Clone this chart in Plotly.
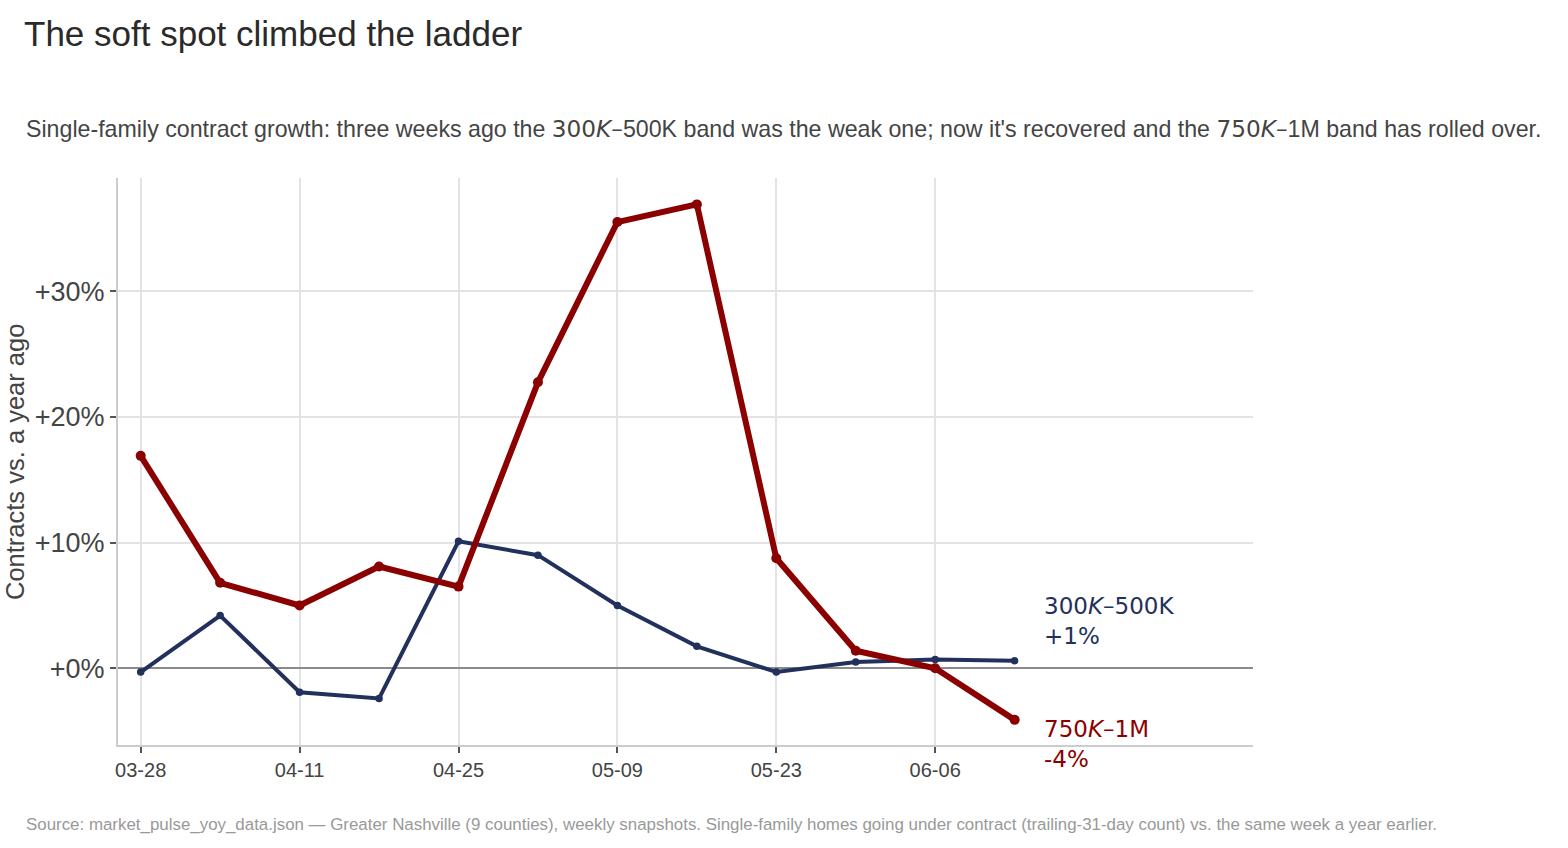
import plotly.graph_objects as go

dates = ["2025-03-28", "2025-04-04", "2025-04-11", "2025-04-18", "2025-04-25", "2025-05-02",
         "2025-05-09", "2025-05-16", "2025-05-23", "2025-05-30", "2025-06-06", "2025-06-13"]
band_300_500 = [-0.3, 4.2, -1.9, -2.4, 10.1, 9.0, 5.0, 1.75, -0.3, 0.5, 0.7, 0.6]
band_750_1m = [16.9, 6.8, 5.0, 8.1, 6.5, 22.75, 35.5, 36.9, 8.75, 1.4, 0.0, -4.1]
x_ticks = ["2025-03-28", "2025-04-11", "2025-04-25", "2025-05-09", "2025-05-23", "2025-06-06"]
x_tick_labels = ["03-28", "04-11", "04-25", "05-09", "05-23", "06-06"]
y_ticks = [0, 10, 20, 30]
y_tick_labels = ["+0%", "+10%", "+20%", "+30%"]

BLUE = "#22305c"
RED = "#8b0000"
FONT = "Liberation Sans, Arial, Helvetica, sans-serif"

W, H = 1568, 848
L, R, T, B = 118, 315, 178, 103
PW, PH = W - L - R, H - T - B

fig = go.Figure()
fig.add_trace(go.Scatter(x=dates, y=band_300_500, mode="lines+markers",
                         line=dict(color=BLUE, width=4), marker=dict(size=7.5, color=BLUE),
                         showlegend=False, cliponaxis=False))
fig.add_trace(go.Scatter(x=dates, y=band_750_1m, mode="lines+markers",
                         line=dict(color=RED, width=6), marker=dict(size=10, color=RED),
                         showlegend=False, cliponaxis=False))

fig.update_layout(
    width=W, height=H,
    margin=dict(l=L, r=R, t=T, b=B),
    paper_bgcolor="white", plot_bgcolor="white",
    font=dict(family=FONT, color="#444444"),
    title=dict(text="The soft spot climbed the ladder", x=24 / W, xanchor="left",
               y=1 - 34 / H, yanchor="middle", xref="container", yref="container",
               font=dict(size=35, color="#2a2a2a", family=FONT)),
    xaxis=dict(type="date", range=["2025-03-26", "2025-07-04"],
               tickvals=x_ticks, ticktext=x_tick_labels,
               showgrid=True, gridcolor="#e3e3e3", gridwidth=2,
               showline=True, linecolor="#cccccc", linewidth=2,
               ticks="outside", ticklen=6, tickcolor="#555555", tickwidth=2,
               tickfont=dict(size=20, color="#444444"), zeroline=False),
    yaxis=dict(range=[-6.1, 39.0], tickvals=y_ticks, ticktext=y_tick_labels,
               showgrid=True, gridcolor="#e3e3e3", gridwidth=2,
               showline=True, linecolor="#cccccc", linewidth=2,
               ticks="outside", ticklen=6, tickcolor="#555555", tickwidth=2,
               tickfont=dict(size=27, color="#444444"),
               zeroline=True, zerolinecolor="#8a8a8a", zerolinewidth=2),
)

# y axis title
fig.add_annotation(xref="paper", yref="paper", x=(15 - L) / PW, y=1 - (462 - T) / PH,
                   xanchor="center", yanchor="middle", textangle=-90, showarrow=False,
                   text="Contracts vs. a year ago", font=dict(size=25.5, color="#444444", family=FONT))

# subtitle
fig.add_annotation(xref="paper", yref="paper", x=(24 - L) / PW,
                   y=1 + (T - 128) / PH, xanchor="left", yanchor="middle",
                   text="Single-family contract growth: three weeks ago the "
                        "<span style='font-family:DejaVu Sans'>300<i>K</i>–</span>500K band was the weak one; "
                        "now it's recovered and the "
                        "<span style='font-family:DejaVu Sans'>750<i>K</i>–</span>1M band has rolled over.",
                   showarrow=False, font=dict(size=23.2, color="#444444", family=FONT))

# source
fig.add_annotation(xref="paper", yref="paper", x=(24 - L) / PW,
                   y=-(824 - (H - B)) / PH, xanchor="left", yanchor="middle",
                   text="Source: market_pulse_yoy_data.json — Greater Nashville (9 counties), weekly snapshots. "
                        "Single-family homes going under contract (trailing-31-day count) vs. the same week a year earlier.",
                   showarrow=False, font=dict(size=16.9, color="#999999", family=FONT))

# end labels
fig.add_annotation(x=dates[-1], y=band_300_500[-1], xref="x", yref="y", xanchor="left", yanchor="middle",
                   xshift=27, yshift=40, align="left", showarrow=False,
                   text=f"300<i>K</i>–500K<br>+{band_300_500[-1]:.0f}%",
                   font=dict(size=23, color=BLUE, family="DejaVu Sans"))
fig.add_annotation(x=dates[-1], y=band_750_1m[-1], xref="x", yref="y", xanchor="left", yanchor="middle",
                   xshift=27, yshift=-24, align="left", showarrow=False,
                   text=f"750<i>K</i>–1M<br>{band_750_1m[-1]:.0f}%",
                   font=dict(size=23, color=RED, family="DejaVu Sans"))

fig.write_html("out.html")
